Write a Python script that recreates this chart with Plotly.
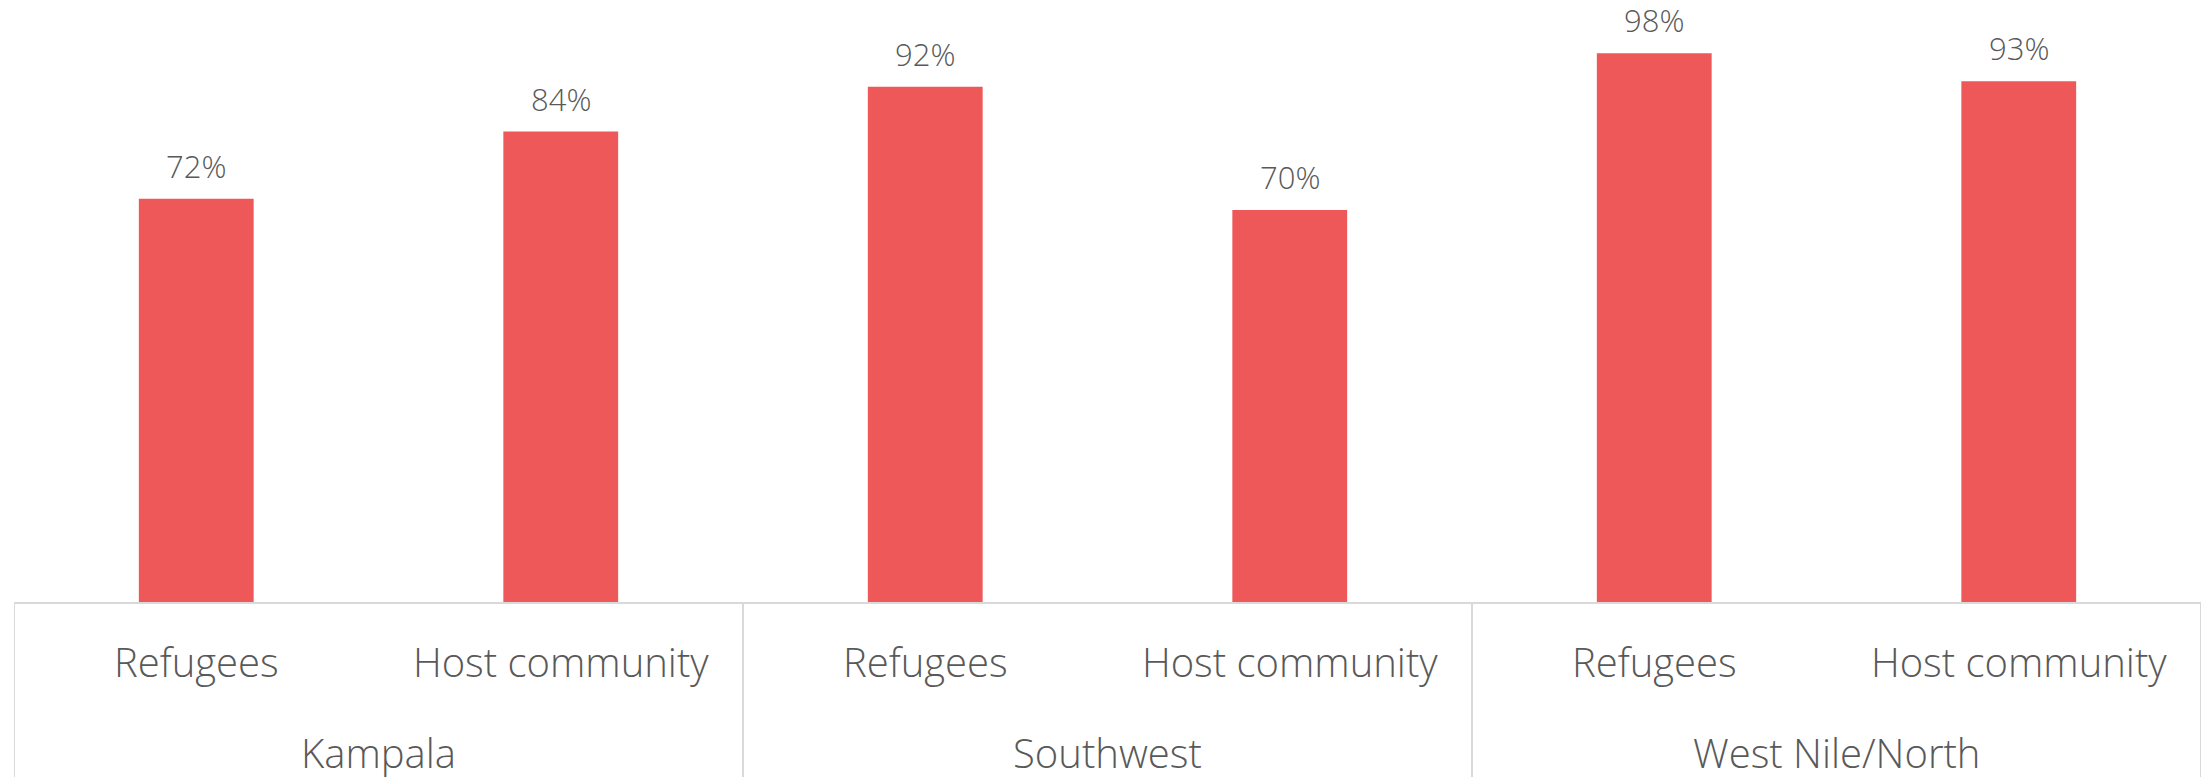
import plotly.graph_objects as go

regions = ["Kampala", "Southwest", "West Nile/North"]
groups = ["Refugees", "Host community", "Refugees", "Host community", "Refugees", "Host community"]
values = [0.72, 0.84, 0.92, 0.70, 0.98, 0.93]

bar_color = "#EF5859"
text_color = "#595959"
line_color = "#D9D9D9"
font_family = "Open Sans, Segoe UI Light, sans-serif"

per_region = len(groups) // len(regions)
xs = list(range(len(groups)))

fig = go.Figure()
fig.add_trace(
    go.Bar(
        x=xs, y=values,
        marker=dict(color=bar_color, line=dict(width=0)),
        width=0.315,
        hoverinfo="y",
    )
)

# value labels above bars
for x, v in zip(xs, values):
    fig.add_annotation(
        x=x, y=v, text=f"{v:.0%}", showarrow=False,
        yanchor="bottom", yshift=17, height=28,
        font=dict(size=31, color=text_color, family=font_family, weight=300),
    )

# region labels and the box lines under the axis
for i, name in enumerate(regions):
    center = i * per_region + (per_region - 1) / 2
    fig.add_annotation(
        x=center, xref="x", y=0, yref="paper", text=name, showarrow=False,
        yanchor="middle", yshift=-150,
        font=dict(size=40, color=text_color, family=font_family, weight=300),
    )
for k in range(len(regions) + 1):
    xd = k * per_region - 0.5
    fig.add_shape(
        type="line", xref="x", yref="paper",
        x0=xd, x1=xd, y0=0, y1=-0.35,
        line=dict(color=line_color, width=2),
    )

fig.update_layout(
    width=2211, height=777,
    margin=dict(l=6, r=18, t=0, b=183),
    paper_bgcolor="white", plot_bgcolor="white",
    showlegend=False,
    font=dict(family=font_family, color=text_color, weight=300),
    xaxis=dict(
        range=[-0.5, len(groups) - 0.5],
        tickvals=xs, ticktext=groups,
        showline=True, linecolor=line_color, linewidth=2,
        showgrid=False, zeroline=False,
        tickfont=dict(size=40, color=text_color, family=font_family, weight=300),
        ticks="", ticklabelstandoff=25,
    ),
    yaxis=dict(range=[0, 594 / 560], visible=False, showgrid=False, zeroline=False),
)

fig.write_html("out.html", config={"displayModeBar": False})
